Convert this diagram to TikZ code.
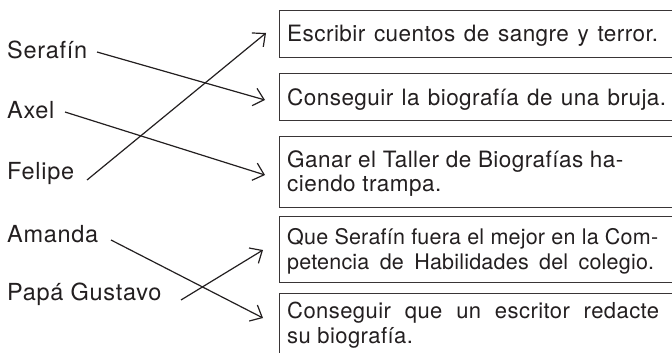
\documentclass[tikz,border=0pt]{standalone}
\usepackage{fontspec}
\newfontfamily\heros{TeX Gyre Heros}
\newfontfamily\herosA[LetterSpace=2]{TeX Gyre Heros}
\newfontfamily\herosB[LetterSpace=1]{TeX Gyre Heros}
\newfontfamily\herosL[LetterSpace=3]{TeX Gyre Heros}
\usetikzlibrary{arrows.meta}
\definecolor{ink}{HTML}{231F20}
\newcommand{\jl}[2]{\makebox[#1][s]{#2}}
\begin{document}
\begin{tikzpicture}[x=1pt,y=-1pt,
  lab/.style={font=\herosL\fontsize{23.5}{26}\selectfont, text=ink, inner sep=0pt, anchor=base west},
  txt/.style={font=\herosA\fontsize{22.5}{25}\selectfont, text=ink, inner sep=0pt, anchor=base west},
  txtb/.style={font=\herosB\fontsize{21.5}{25}\selectfont, text=ink, inner sep=0pt, anchor=base west},
  txtc/.style={font=\herosA\fontsize{22}{25}\selectfont, text=ink, inner sep=0pt, anchor=base west},
  box/.style={draw=ink!90, line width=1.2pt, inner sep=0pt, anchor=north west, minimum width=420pt},
  link/.style={draw=ink, line width=1.2pt, -{Straight Barb[length=10pt,width=18pt]}}]
\useasboundingbox (0,0) rectangle (672,353);
\clip (0,0) rectangle (672,353);
\fill[white] (0,0) rectangle (672,353);

% boxes
\node[box, minimum height=47pt] (b1) at (279,10) {};
\node[box, minimum height=47pt] (b2) at (279,73) {};
\node[box, minimum height=71pt] (b3) at (279,136) {};
\node[box, minimum height=66pt] (b4) at (279,216) {};
\node[box, minimum height=90pt] (b5) at (279,293) {};

% box texts
\node[txt] (t1) at (287,42) {\jl{371pt}{Escribir cuentos de sangre y terror.}};
\node[txt] (t2) at (287,106) {\jl{379pt}{Conseguir la biografía de una bruja.}};
\node[txt] (t3a) at (287,167) {Ganar el Taller de Biografías ha-};
\node[txt] (t3b) at (287,191) {ciendo trampa.};
\node[txtb] (t4a) at (287,244) {\jl{371pt}{Que Serafín fuera el mejor en la Com-}};
\node[txtb] (t4b) at (287,269) {\jl{367pt}{petencia de Habilidades del colegio.}};
\node[txtc] (t5a) at (287,318) {\jl{372pt}{Conseguir que un escritor redacte}};
\node[txtc] (t5b) at (287,343) {su biografía.};

% labels
\node[lab] (serafin) at (7,59) {Serafín};
\node[lab] (axel) at (7,118) {Axel};
\node[lab] (felipe) at (7,179) {Felipe};
\node[lab] (amanda) at (7,242) {Amanda};
\node[lab] (gustavo) at (7,300) {Papá Gustavo};

% connector ends
\coordinate (s1) at (97,52);
\coordinate (e1) at (265,100);
\coordinate (s2) at (65,112);
\coordinate (e2) at (265,175);
\coordinate (s3) at (87,180);
\coordinate (e3) at (266,33);
\coordinate (s4) at (111,240);
\coordinate (e4) at (263,318);
\coordinate (s5) at (181,300);
\coordinate (e5) at (263,250);

\draw[link] (s1) -- (e1);
\draw[link] (s2) -- (e2);
\draw[link] (s3) -- (e3);
\draw[link] (s4) -- (e4);
\draw[link] (s5) -- (e5);
\end{tikzpicture}
\end{document}
